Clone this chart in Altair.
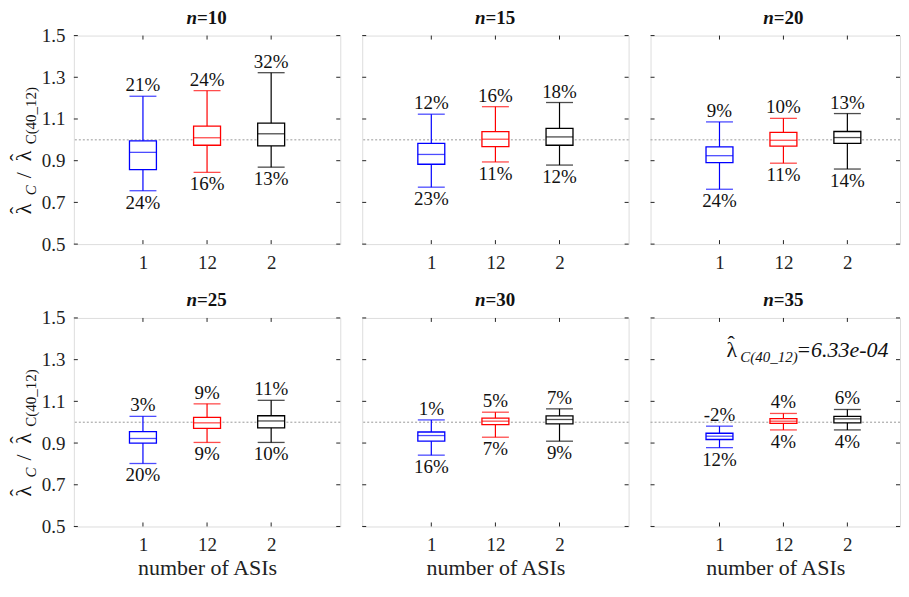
import altair as alt
import pandas as pd

FONT = "Liberation Serif"

panel_n = ["=10", "=15", "=20", "=25", "=30", "=35"]
groups = ["1", "12", "2"]
group_pos = [1, 2, 3]
group_colors = ["#0000ff", "#ff0000", "#000000"]

whisker_hi = [[1.209, 1.236, 1.322], [1.123, 1.159, 1.179], [1.086, 1.103, 1.126],
              [1.028, 1.088, 1.105], [1.011, 1.048, 1.064], [0.981, 1.042, 1.061]]
q3 = [[0.995, 1.066, 1.080], [0.983, 1.039, 1.055], [0.966, 1.036, 1.040],
      [0.955, 1.023, 1.031], [0.953, 1.020, 1.030], [0.947, 1.017, 1.028]]
median = [[0.940, 1.010, 1.029], [0.930, 1.003, 1.014], [0.924, 0.998, 1.011],
          [0.922, 0.997, 1.006], [0.936, 1.005, 1.013], [0.933, 1.005, 1.016]]
q1 = [[0.857, 0.974, 0.971], [0.883, 0.967, 0.974], [0.891, 0.970, 0.983],
      [0.900, 0.970, 0.973], [0.909, 0.988, 0.992], [0.917, 0.994, 0.997]]
whisker_lo = [[0.756, 0.844, 0.869], [0.773, 0.894, 0.879], [0.763, 0.888, 0.860],
              [0.802, 0.903, 0.903], [0.842, 0.928, 0.909], [0.878, 0.963, 0.963]]
top_labels = [["21%", "24%", "32%"], ["12%", "16%", "18%"], ["9%", "10%", "13%"],
              ["3%", "9%", "11%"], ["1%", "5%", "7%"], ["-2%", "4%", "6%"]]
bottom_labels = [["24%", "16%", "13%"], ["23%", "11%", "12%"], ["24%", "11%", "14%"],
                 ["20%", "9%", "10%"], ["16%", "7%", "9%"], ["12%", "4%", "4%"]]
y_ticks = [0.5, 0.7, 0.9, 1.1, 1.3, 1.5]
ref_level = [1.0]

x_title = "number of ASIs"
lam, hat = "λ", "ˆ"
annot_sub, annot_val = "C(40_12)", "=6.33e-04"
ytitle_sub1, ytitle_sep, ytitle_sub2 = "C", "/", "C(40_12)"

PW = 267
PW3 = 250
PH = 209
BOX = 27
CX = PW / 2
SH = (215 - PH) / 2
LABEL_EXPR = "[" + ",".join("'%s'" % g for g in groups) + "][datum.value-1]"


def txt(s, x, y, size, style="normal", weight="normal", angle=0, align="left",
        baseline="alphabetic"):
    kw = dict(align=align, baseline=baseline, fontSize=size, font=FONT, fontStyle=style,
              fontWeight=weight, color="#111")
    if angle:
        kw["angle"] = angle
    return alt.Chart(pd.DataFrame({"t": [s]})).mark_text(**kw).encode(
        x=alt.value(x), y=alt.value(y), text="t:N")


def panel(i, width, show_y, show_xtitle, last=False):
    df = pd.DataFrame({
        "group": groups, "pos": group_pos,
        "hi": whisker_hi[i], "q3": q3[i], "med": median[i],
        "q1": q1[i], "lo": whisker_lo[i],
        "top": top_labels[i], "bot": bottom_labels[i],
    })
    tdf = pd.DataFrame({"v": y_ticks})
    rdf = pd.DataFrame({"v": ref_level})
    xscale = alt.Scale(domain=[0, 4 * width / PW], nice=False, zero=False)
    xaxis = alt.Axis(title=x_title if show_xtitle else None, values=group_pos,
                     labelExpr=LABEL_EXPR, ticks=False, domain=False, grid=False,
                     labelPadding=9, titlePadding=3, labelFlush=False, labelOverlap=False,
                     labelFontSize=19, titleFontSize=22, labelFont=FONT, titleFont=FONT,
                     labelColor="#222", titleColor="#222", titleFontWeight="normal")
    yscale = alt.Scale(domain=[0.5, 1.5], nice=False, zero=False)
    if show_y:
        yaxis = alt.Axis(title=None, values=y_ticks, format=".1f", ticks=False,
                         domain=False, grid=False, labelPadding=9,
                         labelFontSize=19, labelFont=FONT, labelColor="#222")
    else:
        yaxis = None

    def X():
        return alt.X("pos:Q", scale=xscale, axis=xaxis)

    def Y(f):
        return alt.Y(f + ":Q", scale=yscale, axis=yaxis)

    color = alt.Color("group:N", scale=alt.Scale(domain=groups, range=group_colors), legend=None)
    base = alt.Chart(df)

    refl = alt.Chart(rdf).mark_rule(color="#999999", strokeDash=[2, 2], strokeWidth=1).encode(
        y=Y("v"))
    whisk = base.mark_rule(strokeWidth=1.2).encode(x=X(), y=Y("lo"), y2="hi:Q", color=color)
    tick_kw = dict(size=BOX, thickness=1.3, orient="horizontal")
    cap_hi = base.mark_tick(**tick_kw).encode(x=X(), y=Y("hi"), color=color)
    cap_lo = base.mark_tick(**tick_kw).encode(x=X(), y=Y("lo"), color=color)
    box = base.mark_bar(size=BOX, fill="white", strokeWidth=1.3, orient="vertical").encode(
        x=X(), y=Y("q1"), y2="q3:Q", stroke=color)
    med = base.mark_tick(**tick_kw).encode(x=X(), y=Y("med"), color=color)
    ttop = base.mark_text(baseline="bottom", dy=-1, fontSize=19, font=FONT, color="#111").encode(
        x=X(), y=Y("hi"), text="top:N")
    tbot = base.mark_text(baseline="top", dy=3, fontSize=19, font=FONT, color="#111").encode(
        x=X(), y=Y("lo"), text="bot:N")

    tk = alt.Chart(tdf).mark_rule(color="#262626", strokeWidth=1)
    tl = tk.encode(y=Y("v"), x=alt.value(0), x2=alt.value(4))
    tr = tk.encode(y=Y("v"), x=alt.value(width - 4), x2=alt.value(width))
    ck = base.mark_rule(color="#262626", strokeWidth=1)
    ct = ck.encode(x=X(), y=alt.value(0), y2=alt.value(4))
    cb = ck.encode(x=X(), y=alt.value(PH - 4), y2=alt.value(PH))

    # panel title: italic bold n, bold "=xx"
    t1 = txt("n", CX - 10, -12, 19, style="italic", weight="bold", align="right")
    t2 = txt(panel_n[i], CX - 10, -12, 19, weight="bold", align="left")

    layers = [refl, whisk, cap_hi, cap_lo, box, med, ttop, tbot, tl, tr, ct, cb, t1, t2]

    if show_y:
        # rotated y title: lambda-hat_C / lambda-hat_C(40_12)
        bx = -43
        layers += [
            txt(lam, bx, 182 - SH, 22, angle=270),
            txt(hat, bx - 6, 182 - SH, 22, angle=270),
            txt(ytitle_sub1, bx + 5, 163 - SH, 15, style="italic", angle=270),
            txt(ytitle_sep, bx, 146 - SH, 22, angle=270),
            txt(lam, bx, 129 - SH, 22, angle=270),
            txt(hat, bx - 6, 129 - SH, 22, angle=270),
            txt(ytitle_sub2, bx + 5, 112 - SH, 15, angle=270),
        ]

    if last:
        ay = 39
        layers += [
            txt(lam, 76, ay, 22),
            txt(hat, 77, ay - 6, 22),
            txt(annot_sub, 90, ay + 5, 15, style="italic"),
            txt(annot_val, 146, ay, 22, style="italic"),
        ]

    return alt.layer(*layers).properties(width=width, height=PH)


row1 = alt.hconcat(panel(0, PW, True, False), panel(1, PW, False, False),
                   panel(2, PW3, False, False), spacing=20)
row2 = alt.hconcat(panel(3, PW, True, True), panel(4, PW, False, True),
                   panel(5, PW3, False, True, last=True), spacing=20)

chart = alt.vconcat(row1, row2, spacing=17).properties(
    padding={"left": -2, "top": -1, "right": 0, "bottom": -5}
).configure_view(stroke="#262626", strokeWidth=1).configure(background="white")

chart.save("out.html", embed_options={"renderer": "svg", "actions": False})
